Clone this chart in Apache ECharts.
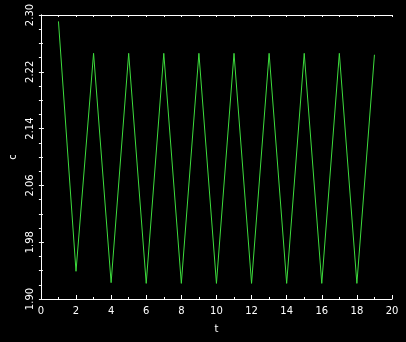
<!DOCTYPE html>
<html><head><meta charset="utf-8">
<script src="https://cdn.jsdelivr.net/npm/echarts@6/dist/echarts.min.js"></script>
<style>html,body{margin:0;padding:0;background:#000;}#c{width:406px;height:342px;}</style>
</head><body><div id="c"></div>
<script>
const tValues = [1,2,3,4,5,6,7,8,9,10,11,12,13,14,15,16,17,18,19];
const cValues = [2.291,1.939,2.246,1.923,2.246,1.922,2.246,1.922,2.246,1.922,2.246,1.922,2.246,1.922,2.246,1.922,2.246,1.922,2.244];
const xLabels = ['0','2','4','6','8','10','12','14','16','18','20'];
const yLabels = ['1.90','1.98','2.06','2.14','2.22','2.30'];
const xName = 't', yName = 'c';

const font = {color:'#fff', fontSize:10, fontFamily:'DejaVu Sans'};
const chart = echarts.init(document.getElementById('c'), null, {renderer:'canvas'});
const line = {lineStyle:{color:'#fff', width:1}};
chart.setOption({
  backgroundColor:'#000',
  animation:false,
  grid:{left:35, top:15, width:357, height:284, containLabel:false},
  xAxis:[{
    type:'value', min:0, max:20, interval:2, position:'bottom',
    name:xName, nameLocation:'middle', nameGap:25, nameTextStyle:font,
    axisLine:line, splitLine:{show:false},
    axisTick:{inside:true, length:4, lineStyle:{color:'#fff'}},
    minorTick:{show:true, splitNumber:2, length:2, lineStyle:{color:'#fff'}},
    axisLabel:Object.assign({margin:7, formatter:v=>{const i=Math.round(v/2);return xLabels[i]!==undefined?xLabels[i]:'';}}, font)
  },{
    type:'value', min:0, max:20, interval:1, position:'top',
    axisLine:line, splitLine:{show:false},
    axisTick:{inside:true, length:2, lineStyle:{color:'#fff'}},
    axisLabel:{show:false}
  }],
  yAxis:[{
    type:'value', min:1.90, max:2.30, interval:0.08, position:'left',
    name:yName, nameLocation:'middle', nameGap:19, nameRotate:90, nameTextStyle:font,
    axisLine:line, splitLine:{show:false},
    axisTick:{inside:true, length:3, lineStyle:{color:'#fff'}},
    minorTick:{show:true, splitNumber:2, length:2, lineStyle:{color:'#fff'}},
    axisLabel:Object.assign({rotate:90, margin:5, formatter:v=>{const i=Math.round((v-1.90)/0.08);return yLabels[i]!==undefined?yLabels[i]:'';}}, font)
  },{
    type:'value', min:1.90, max:2.30, interval:0.02, position:'right',
    axisLine:line, splitLine:{show:false},
    axisTick:{inside:true, length:2, lineStyle:{color:'#fff'}},
    axisLabel:{show:false}
  }],
  series:[{
    type:'line', xAxisIndex:0, yAxisIndex:0,
    data:tValues.map((t,i)=>[t,cValues[i]]),
    showSymbol:false, lineStyle:{color:'#3ddc3d', width:1}
  }]
});
</script></body></html>
